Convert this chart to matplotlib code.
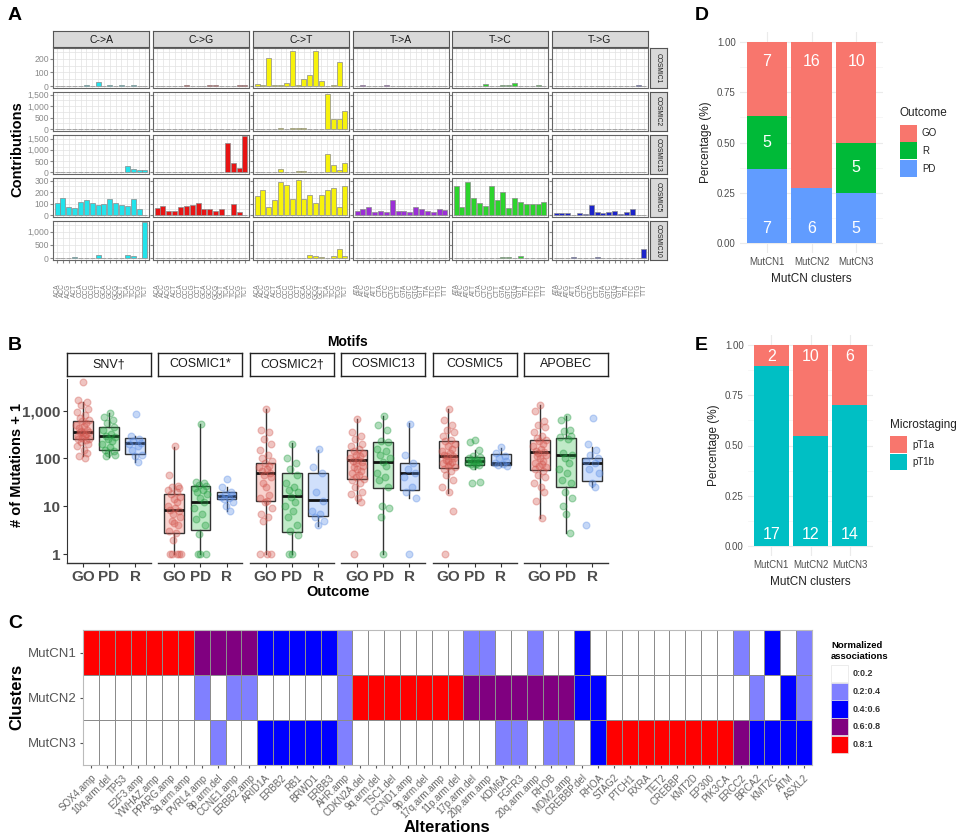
import numpy as np
import matplotlib.pyplot as plt
from matplotlib.colors import ListedColormap, BoundaryNorm
from matplotlib.patches import Rectangle

plt.rcParams['font.family'] = ['Liberation Sans', 'DejaVu Sans']

W, H = 957, 840
fig = plt.figure(figsize=(W / 100, H / 100), dpi=100)


def px_axes(x0, y0, x1, y1, **kw):
    return fig.add_axes([x0 / W, 1 - y1 / H, (x1 - x0) / W, (y1 - y0) / H], **kw)


def ftext(x, y, s, **kw):
    return fig.text(x / W, 1 - y / H, s, **kw)


def frect(x0, y0, x1, y1, **kw):
    fig.add_artist(Rectangle((x0 / W, 1 - y1 / H), (x1 - x0) / W, (y1 - y0) / H,
                             transform=fig.transFigure, **kw))


# ---------------- data: panel A (signature contributions, 96 profile)
mut_types = ["C->A", "C->G", "C->T", "T->A", "T->C", "T->G"]
signatures = ["COSMIC1", "COSMIC2", "COSMIC13", "COSMIC5", "COSMIC10"]
type_colors = ["#22E3EB", "#E81414", "#F7F20C", "#9B2FD6", "#2CD42C", "#1C24C9"]

contrib_cosmic1 = [
    [2, 2, 4, 3, 2, 5, 3, 30, 3, 10, 2, 8, 2, 10, 3, 2],
    [3, 2, 2, 2, 2, 5, 2, 2, 2, 5, 5, 2, 2, 2, 5, 8],
    [15, 10, 210, 5, 5, 20, 260, 10, 55, 80, 255, 35, 2, 5, 175, 2],
    [3, 5, 2, 2, 2, 5, 2, 2, 2, 2, 2, 2, 2, 2, 2, 3],
    [2, 2, 2, 2, 2, 15, 2, 2, 5, 5, 20, 2, 2, 2, 10, 2],
    [2, 2, 2, 2, 2, 3, 2, 3, 2, 2, 2, 2, 2, 2, 10, 2],
]
contrib_cosmic2 = [
    [10, 5, 5, 5, 5, 5, 5, 5, 15, 5, 5, 5, 5, 5, 5, 5],
    [5, 5, 5, 5, 5, 5, 5, 5, 5, 5, 5, 5, 5, 5, 5, 5],
    [10, 5, 5, 5, 30, 5, 40, 50, 30, 10, 5, 5, 1520, 430, 450, 780],
    [5, 5, 5, 5, 5, 5, 5, 5, 5, 5, 5, 5, 5, 5, 5, 5],
    [5, 5, 5, 5, 5, 5, 5, 20, 10, 10, 5, 5, 5, 5, 5, 5],
    [5, 5, 5, 5, 5, 5, 5, 5, 5, 5, 5, 5, 5, 5, 5, 5],
]
contrib_cosmic13 = [
    [5, 5, 5, 10, 10, 10, 5, 5, 5, 5, 5, 5, 280, 150, 90, 90],
    [5, 5, 5, 5, 10, 5, 5, 20, 5, 5, 5, 5, 1300, 400, 180, 1600],
    [10, 5, 5, 5, 150, 30, 10, 40, 50, 10, 5, 5, 800, 300, 100, 400],
    [5, 5, 5, 5, 5, 5, 5, 5, 5, 5, 5, 5, 5, 5, 5, 5],
    [5, 5, 5, 5, 5, 5, 5, 5, 5, 5, 5, 5, 5, 5, 5, 5],
    [5, 5, 5, 5, 5, 5, 5, 5, 5, 5, 5, 5, 5, 5, 5, 5],
]
contrib_cosmic5 = [
    [110, 150, 75, 65, 115, 130, 110, 85, 100, 140, 110, 85, 80, 140, 55, 2],
    [60, 80, 35, 35, 75, 80, 90, 105, 55, 55, 40, 55, 2, 100, 30, 3],
    [170, 215, 75, 135, 290, 260, 140, 305, 140, 175, 110, 175, 215, 240, 75, 250],
    [40, 50, 70, 25, 35, 30, 135, 40, 40, 30, 70, 50, 35, 25, 50, 45],
    [255, 70, 290, 145, 110, 80, 250, 130, 200, 65, 150, 115, 95, 95, 100, 115],
    [20, 20, 20, 2, 20, 8, 90, 25, 15, 25, 40, 10, 25, 50, 5, 5],
]
contrib_cosmic10 = [
    [5, 5, 5, 40, 10, 5, 5, 100, 5, 10, 5, 5, 100, 70, 5, 1380],
    [3, 3, 3, 3, 3, 3, 3, 3, 3, 3, 3, 3, 3, 3, 3, 3],
    [5, 15, 15, 5, 5, 5, 5, 5, 5, 120, 80, 50, 5, 80, 330, 70],
    [5, 5, 5, 5, 5, 5, 5, 5, 5, 5, 5, 5, 5, 5, 5, 5],
    [5, 5, 5, 5, 5, 5, 5, 5, 50, 40, 5, 70, 5, 5, 10, 5],
    [5, 5, 5, 40, 5, 5, 5, 60, 5, 5, 5, 5, 5, 5, 5, 350],
]
contributions = [contrib_cosmic1, contrib_cosmic2, contrib_cosmic13, contrib_cosmic5, contrib_cosmic10]
bases = ["A", "C", "G", "T"]

# ---------------- data: panel B (mutation counts by outcome)
outcomes = ["GO", "PD", "R"]
motifs = ["SNV\u2020", "COSMIC1*", "COSMIC2\u2020", "COSMIC13", "COSMIC5", "APOBEC"]
# (whisker low, q1, median, q3, whisker high) for GO, PD, R
box_snv = [(113, 250, 355, 615, 1550), (107, 150, 290, 465, 915), (85, 125, 215, 267, 290)]
box_cosmic1 = [(1, 2.7, 8.4, 18, 178), (1, 3.2, 12.3, 26, 525), (8, 14.5, 16.5, 20, 25)]
box_cosmic2 = [(1, 13, 50, 80, 1100), (1, 2.9, 16.5, 49, 210), (3.9, 6.2, 13.5, 50, 150)]
box_cosmic13 = [(11.5, 37, 93, 147, 670), (1, 24.5, 86, 218, 780), (14.7, 22, 50, 80, 550)]
box_cosmic5 = [(19, 64, 113, 234, 1100), (60, 72, 90, 108, 150), (71, 72, 80, 125, 166)]
box_apobec = [(5.6, 58, 135, 238, 1330), (2.7, 25, 119, 268, 760), (25, 33, 82, 102, 177)]
box_stats = [box_snv, box_cosmic1, box_cosmic2, box_cosmic13, box_cosmic5, box_apobec]

pts_snv = [
    [4000, 1700, 1500, 1300, 1100, 950, 800, 700, 650, 600, 550, 500, 470, 430, 400, 380, 360,
     350, 340, 320, 300, 290, 270, 260, 250, 240, 220, 200, 180, 150, 130, 110, 100],
    [900, 750, 650, 550, 450, 400, 330, 300, 280, 260, 230, 200, 170, 150, 140, 130, 120, 110],
    [850, 290, 260, 230, 210, 200, 180, 150, 120, 110, 85],
]
pts_cosmic1 = [
    [180, 45, 27, 25, 24, 22, 20, 18, 16, 14, 12, 10, 9, 8.5, 8, 7, 6, 5, 4.5, 4, 3, 2.7, 2,
     1, 1, 1, 1, 1],
    [520, 32, 30, 28, 26, 24, 22, 20, 18, 15, 12, 9, 7, 5.5, 4, 2.6, 1, 1, 1],
    [38, 25, 20, 18, 17, 16, 15, 14, 12, 10, 8],
]
pts_cosmic2 = [
    [1100, 400, 350, 260, 200, 150, 120, 100, 90, 80, 70, 65, 60, 55, 50, 45, 40, 30, 25, 17,
     15, 13, 12, 9, 7, 6, 5, 1, 1, 1],
    [200, 100, 80, 60, 45, 30, 25, 22, 20, 16, 12, 10, 8, 6, 4, 3, 2.5, 1, 1],
    [160, 65, 50, 20, 13, 8, 7, 6, 5, 4],
]
pts_cosmic13 = [
    [670, 350, 300, 250, 200, 180, 160, 140, 130, 120, 110, 100, 95, 90, 85, 80, 70, 65, 60,
     55, 50, 45, 40, 37, 35, 30, 25, 20, 18, 15, 12, 1],
    [780, 500, 400, 230, 220, 160, 140, 120, 100, 85, 70, 50, 40, 35, 25, 10, 9, 6, 1],
    [520, 120, 80, 60, 50, 40, 25, 20, 15, 1],
]
pts_cosmic5 = [
    [1100, 650, 500, 400, 350, 300, 240, 230, 200, 180, 160, 140, 130, 120, 115, 110, 100, 95,
     90, 85, 80, 75, 70, 65, 60, 55, 45, 35, 25, 20, 8, 1],
    [240, 220, 150, 110, 105, 100, 95, 92, 90, 88, 85, 80, 78, 75, 72, 70, 32, 30],
    [170, 130, 110, 100, 90, 80, 75, 72, 70],
]
pts_apobec = [
    [1300, 1000, 600, 500, 450, 350, 300, 270, 240, 230, 200, 180, 160, 140, 135, 130, 120,
     110, 100, 90, 80, 75, 70, 65, 60, 55, 45, 40, 30, 25, 20, 13, 5.6],
    [750, 650, 400, 380, 300, 280, 250, 130, 120, 100, 80, 60, 50, 35, 30, 20, 15, 10, 7, 2.7],
    [700, 200, 150, 120, 100, 90, 80, 60, 50, 30, 25, 4],
]
points = [pts_snv, pts_cosmic1, pts_cosmic2, pts_cosmic13, pts_cosmic5, pts_apobec]

# ---------------- data: panel C (normalized associations heatmap)
clusters = ["MutCN1", "MutCN2", "MutCN3"]
alterations = ["SOX4.amp", "10q.arm.del", "TP53", "E2F3.amp", "YWHAZ.amp", "PPARG.amp",
               "3q.arm.amp", "PVRL4.amp", "8p.arm.del", "CCNE1.amp", "ERBB2.amp", "ARID1A",
               "ERBB2", "RB1", "BRWD1", "ERBB3", "AHR.amp", "CDKN2A.del", "9q.arm.del",
               "TSC1.del", "CCND1.amp", "9p.arm.del", "17q.arm.amp", "11p.arm.del",
               "17p.arm.del", "20p.arm.amp", "KDM6A", "FGFR3", "20q.arm.amp", "RHOB",
               "MDM2.amp", "CREBBP.del", "RHOA", "STAG2", "PTCH1", "RXRA", "TET2", "CREBBP",
               "KMT2D", "EP300", "PIK3CA", "ERCC2", "BRCA2", "KMT2C", "ATM", "ASXL2"]
# category index: 0 -> 0:0.2, 1 -> 0.2:0.4, 2 -> 0.4:0.6, 3 -> 0.6:0.8, 4 -> 0.8:1
assoc_mutcn1 = [4, 4, 4, 4, 4, 4, 4, 3, 3, 3, 3, 2, 2, 2, 2, 2, 1, 0, 0, 0, 0, 0, 0, 0,
                1, 1, 0, 0, 1, 0, 0, 2, 0, 0, 0, 0, 0, 0, 0, 0, 0, 1, 0, 2, 0, 1]
assoc_mutcn2 = [0, 0, 0, 0, 0, 0, 0, 1, 0, 1, 1, 0, 0, 0, 0, 0, 1, 4, 4, 4, 4, 4, 4, 4,
                3, 3, 3, 3, 3, 3, 3, 2, 2, 0, 0, 0, 0, 0, 0, 0, 0, 0, 1, 0, 2, 1]
assoc_mutcn3 = [0, 0, 0, 0, 0, 0, 0, 0, 1, 0, 0, 2, 2, 2, 2, 2, 1, 0, 0, 0, 0, 0, 0, 0,
                0, 0, 1, 1, 0, 1, 1, 0, 2, 4, 4, 4, 4, 4, 4, 4, 4, 3, 2, 2, 2, 2]
assoc_labels = ["0:0.2", "0.2:0.4", "0.4:0.6", "0.6:0.8", "0.8:1"]
assoc_colors = ["#FFFFFF", "#8080FF", "#0000FF", "#800080", "#FF0000"]

# ---------------- data: panels D and E (counts per cluster)
mutcn = ["MutCN1", "MutCN2", "MutCN3"]
outcome_go = [7, 16, 10]
outcome_r = [5, 0, 5]
outcome_pd = [7, 6, 5]
stage_pt1a = [2, 10, 6]
stage_pt1b = [17, 12, 14]

GREY_TXT = "#4D4D4D"

# ================= PANEL A
colsA = [(53, 149), (153, 249), (253, 349), (353, 449), (452, 548), (552, 648)]
rowsA = [(48, 88), (92, 131), (135, 174), (178, 217), (221, 260)]
ylimA = [(-14, 280), (-80, 1610), (-80, 1660), (-16, 323), (-70, 1400)]
yticksA = [[0, 100, 200], [0, 500, 1000, 1500], [0, 500, 1000, 1500], [0, 100, 200, 300],
           [0, 500, 1000]]
xpos = np.arange(16)

for c, (x0, x1) in enumerate(colsA):
    sax = px_axes(x0, 31, x1, 47)
    sax.set_facecolor("#D9D9D9")
    sax.set_xticks([]); sax.set_yticks([])
    for s in sax.spines.values():
        s.set_color("#555555"); s.set_linewidth(0.8)
    sax.text(0.5, 0.45, mut_types[c], ha="center", va="center", fontsize=7.5,
             color="#1A1A1A", transform=sax.transAxes)

for r, (y0, y1) in enumerate(rowsA):
    sax = px_axes(650, y0, 667, y1)
    sax.set_facecolor("#D9D9D9")
    sax.set_xticks([]); sax.set_yticks([])
    for s in sax.spines.values():
        s.set_color("#555555"); s.set_linewidth(0.8)
    sax.text(0.5, 0.5, signatures[r], ha="center", va="center", rotation=270, fontsize=4.8,
             color="#1A1A1A", transform=sax.transAxes)
    step = yticksA[r][1] - yticksA[r][0]
    for c, (x0, x1) in enumerate(colsA):
        ax = px_axes(x0, y0, x1, y1)
        ax.bar(xpos, contributions[r][c], width=0.85, color=type_colors[c],
               edgecolor="#8A8A8A", linewidth=0.5, zorder=3)
        ax.set_xlim(-0.7, 15.7)
        ax.set_ylim(*ylimA[r])
        ax.set_yticks(yticksA[r])
        ax.set_yticks(np.arange(step / 2, ylimA[r][1], step), minor=True)
        ax.set_xticks(xpos)
        ax.grid(which="both", color="#E2E2E2", linewidth=0.5, zorder=0)
        ax.set_axisbelow(True)
        for s in ax.spines.values():
            s.set_color("#666666"); s.set_linewidth(0.8)
        ax.tick_params(which="minor", length=0)
        ax.tick_params(axis="y", length=2, color="#888888", labelsize=6.2,
                       labelcolor="#8A8A8A", pad=1)
        ax.tick_params(axis="x", length=2, color="#888888")
        if c == 0:
            ax.set_yticklabels([f"{v:,}" for v in yticksA[r]])
        else:
            ax.set_yticklabels([])
        if r == len(rowsA) - 1:
            ref = mut_types[c][0]
            ax.set_xticklabels([a + ref + b for a in bases for b in bases], rotation=90,
                               fontsize=4.8, color="#7A7A7A")
            ax.tick_params(axis="x", pad=15)
        else:
            ax.set_xticklabels([])
            ax.tick_params(axis="x", length=0)

ftext(17, 149, "Contributions", rotation=90, ha="center", va="center", fontsize=10.5,
      fontweight="bold")

# ================= PANEL B
fill_b = ["#F9D3CF", "#C0EAC8", "#D0E0FB"]
pt_b = ["#D2574F", "#1E9B3C", "#5A8DE6"]
jitter = [0.02, -0.18, 0.15, -0.07, 0.2, -0.22, 0.09, -0.12, 0.24, -0.02, 0.12, -0.25,
          0.05, -0.15, 0.18, -0.05, 0.22, -0.1, 0.0, 0.14, -0.2, 0.07, -0.03, 0.25, -0.17,
          0.11, -0.08, 0.19, -0.23, 0.04, 0.16, -0.13, 0.08, -0.01, 0.21]
b_w, b_gap = 84, 7.4
ylo, yhi = 0.65, 4600
for i, motif in enumerate(motifs):
    x0 = 67 + i * (b_w + b_gap)
    x1 = x0 + b_w
    sax = px_axes(x0, 353, x1, 376)
    sax.set_xticks([]); sax.set_yticks([])
    for s in sax.spines.values():
        s.set_color("#222222"); s.set_linewidth(1.0)
    sax.text(0.5, 0.5, motif, ha="center", va="center", fontsize=9, color="#1A1A1A",
             transform=sax.transAxes)

    ax = px_axes(x0, 379, x1, 563)
    ax.set_yscale("log")
    stats = []
    for g in range(3):
        lo, q1, med, q3, hi = box_stats[i][g]
        stats.append(dict(whislo=lo, q1=q1, med=med, q3=q3, whishi=hi, fliers=[]))
    bp = ax.bxp(stats, positions=[1, 2, 3], widths=0.75, patch_artist=True,
                showfliers=False, showcaps=False,
                boxprops=dict(edgecolor="#333333", linewidth=1.0),
                whiskerprops=dict(color="#333333", linewidth=1.0),
                medianprops=dict(color="#111111", linewidth=2.0), zorder=2)
    for g, patch in enumerate(bp["boxes"]):
        patch.set_facecolor(fill_b[g])
    for g in range(3):
        vals = points[i][g]
        xs = [g + 1 + jitter[k % len(jitter)] for k in range(len(vals))]
        ax.scatter(xs, vals, s=24, facecolors=pt_b[g], edgecolors=pt_b[g], alpha=0.35,
                   linewidths=0.9, zorder=3, clip_on=False)
    ax.set_xlim(0.4, 3.6)
    ax.set_ylim(ylo, yhi)
    for s in ["top", "right"]:
        ax.spines[s].set_visible(False)
    ax.spines["bottom"].set_color("#333333")
    ax.spines["bottom"].set_linewidth(1.0)
    ax.set_xticks([1, 2, 3])
    ax.set_xticklabels(outcomes, fontsize=11, fontweight="bold", color=GREY_TXT)
    ax.tick_params(axis="x", length=3, color="#333333", pad=2)
    ax.minorticks_off()
    if i == 0:
        ax.spines["left"].set_color("#333333")
        ax.set_yticks([1, 10, 100, 1000])
        ax.set_yticklabels(["1", "10", "100", "1,000"], fontsize=11, fontweight="bold",
                           color=GREY_TXT)
        ax.tick_params(axis="y", length=3, color="#333333", pad=2)
    else:
        ax.spines["left"].set_visible(False)
        ax.set_yticks([])

ftext(348, 342, "Motifs", ha="center", va="center", fontsize=10, fontweight="bold")
ftext(338, 592, "Outcome", ha="center", va="center", fontsize=10.5, fontweight="bold")
ftext(17, 465, "# of Mutations + 1", rotation=90, ha="center", va="center", fontsize=10.5,
      fontweight="bold")

# ================= PANEL C
axc = px_axes(83, 630, 812, 765)
mat = np.array([assoc_mutcn1, assoc_mutcn2, assoc_mutcn3])
cmap = ListedColormap(assoc_colors)
norm = BoundaryNorm(np.arange(-0.5, 5.5, 1), cmap.N)
axc.pcolormesh(np.arange(len(alterations) + 1), np.arange(4), mat, cmap=cmap, norm=norm,
               edgecolors="#8C8C8C", linewidth=0.6)
axc.set_xlim(0, len(alterations))
axc.set_ylim(3, 0)
axc.set_xticks(np.arange(len(alterations)) + 0.5)
axc.set_xticklabels(alterations, rotation=45, ha="right", rotation_mode="anchor",
                    fontsize=7, color="#666666")
axc.set_yticks([0.5, 1.5, 2.5])
axc.set_yticklabels(clusters, fontsize=9.5, color="#555555")
axc.tick_params(length=2.5, color="#555555", pad=2)
axc.tick_params(axis="x", pad=3)
for s in axc.spines.values():
    s.set_color("#BBBBBB"); s.set_linewidth(0.8)
ftext(17, 697, "Clusters", rotation=90, ha="center", va="center", fontsize=12,
      fontweight="bold")
ftext(447, 828, "Alterations", ha="center", va="center", fontsize=12, fontweight="bold")

ftext(831, 651, "Normalized\nassociations", ha="left", va="center", fontsize=6.8,
      fontweight="bold", linespacing=1.2)
for k, (lab, col) in enumerate(zip(assoc_labels, assoc_colors)):
    ya = 665 + k * 17.7
    frect(831, ya, 848, ya + 17.2, facecolor=col, edgecolor="#E5E5E5", linewidth=0.5)
    ftext(853, ya + 8.8, lab, ha="left", va="center", fontsize=6.5, fontweight="bold",
          color="#333333")

# ================= PANELS D and E
def minimal_axes(ax):
    for s in ax.spines.values():
        s.set_visible(False)
    ax.set_yticks([0, 0.25, 0.5, 0.75, 1.0])
    ax.set_yticklabels(["0.00", "0.25", "0.50", "0.75", "1.00"], fontsize=7, color=GREY_TXT)
    ax.set_yticks([0.125, 0.375, 0.625, 0.875], minor=True)
    ax.grid(which="major", color="#EBEBEB", linewidth=0.8)
    ax.grid(which="minor", axis="y", color="#F3F3F3", linewidth=0.5)
    ax.set_axisbelow(True)
    ax.tick_params(which="both", length=0, pad=3)
    ax.set_xlim(0.4, 3.6)
    ax.set_ylim(-0.05, 1.05)
    ax.set_xticks([1, 2, 3])
    ax.set_xticklabels(mutcn, fontsize=7, color=GREY_TXT)


xs = np.arange(1, 4)
axd = px_axes(740, 32, 883, 253)
tot_d = np.array(outcome_go) + np.array(outcome_r) + np.array(outcome_pd)
pd_frac = np.array(outcome_pd) / tot_d
r_frac = np.array(outcome_r) / tot_d
go_frac = np.array(outcome_go) / tot_d
axd.bar(xs, pd_frac, width=0.9, color="#619CFF", zorder=2)
axd.bar(xs, r_frac, bottom=pd_frac, width=0.9, color="#00BA38", zorder=2)
axd.bar(xs, go_frac, bottom=pd_frac + r_frac, width=0.9, color="#F8766D", zorder=2)
minimal_axes(axd)
for k in range(3):
    axd.text(xs[k], 0.905, str(outcome_go[k]), ha="center", va="center", color="white",
             fontsize=11.5, zorder=3)
    if outcome_r[k] > 0:
        axd.text(xs[k], pd_frac[k] + r_frac[k] / 2, str(outcome_r[k]), ha="center",
                 va="center", color="white", fontsize=11.5, zorder=3)
    axd.text(xs[k], 0.07, str(outcome_pd[k]), ha="center", va="center", color="white",
             fontsize=11.5, zorder=3)
axd.set_ylabel("Percentage (%)", fontsize=8.5, color="#222222", labelpad=4)
axd.set_xlabel("MutCN clusters", fontsize=8.5, color="#222222", labelpad=4)

ftext(900, 113, "Outcome", ha="left", va="center", fontsize=8.5, color="#222222")
for k, (lab, col) in enumerate(zip(["GO", "R", "PD"], ["#F8766D", "#00BA38", "#619CFF"])):
    ya = 125 + k * 17.5
    frect(900, ya, 917, ya + 16.5, facecolor=col, edgecolor="none")
    ftext(922, ya + 8.5, lab, ha="left", va="center", fontsize=7, color="#222222")

axe = px_axes(748, 335, 873, 556)
tot_e = np.array(stage_pt1a) + np.array(stage_pt1b)
b_frac = np.array(stage_pt1b) / tot_e
a_frac = np.array(stage_pt1a) / tot_e
axe.bar(xs, b_frac, width=0.9, color="#00BFC4", zorder=2)
axe.bar(xs, a_frac, bottom=b_frac, width=0.9, color="#F8766D", zorder=2)
minimal_axes(axe)
for k in range(3):
    axe.text(xs[k], 0.945, str(stage_pt1a[k]), ha="center", va="center", color="white",
             fontsize=11.5, zorder=3)
    axe.text(xs[k], 0.055, str(stage_pt1b[k]), ha="center", va="center", color="white",
             fontsize=11.5, zorder=3)
axe.set_ylabel("Percentage (%)", fontsize=8.5, color="#222222", labelpad=4)
axe.set_xlabel("MutCN clusters", fontsize=8.5, color="#222222", labelpad=4)

ftext(890, 425, "Microstaging", ha="left", va="center", fontsize=8.5, color="#222222")
for k, (lab, col) in enumerate(zip(["pT1a", "pT1b"], ["#F8766D", "#00BFC4"])):
    ya = 436 + k * 17.5
    frect(890, ya, 907, ya + 16.5, facecolor=col, edgecolor="none")
    ftext(912, ya + 8.5, lab, ha="left", va="center", fontsize=7, color="#222222")

# panel letters
for lab, x, y in [("A", 8, 16), ("D", 695, 16), ("B", 8, 345), ("E", 695, 345),
                  ("C", 8, 624)]:
    ftext(x, y, lab, ha="left", va="center", fontsize=14, fontweight="bold")

fig.savefig("out.png", dpi=100)
